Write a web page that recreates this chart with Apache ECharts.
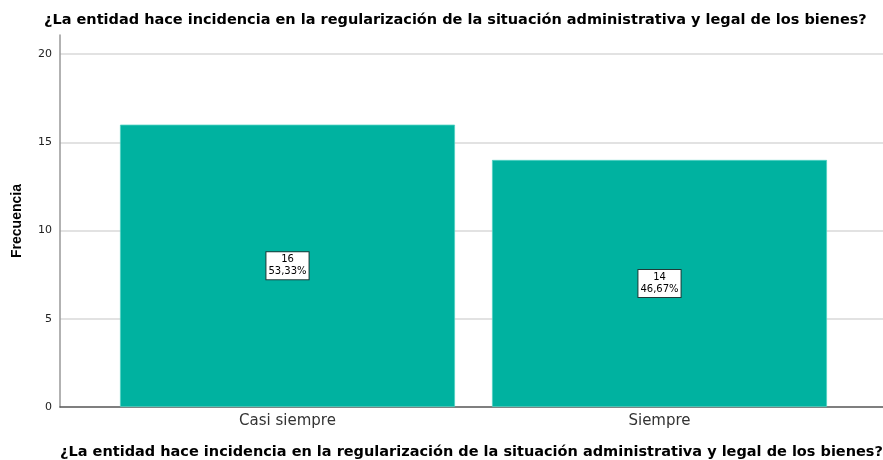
<!DOCTYPE html>
<html>
<head>
<meta charset="utf-8">
<script src="https://cdn.jsdelivr.net/npm/echarts@6/dist/echarts.min.js"></script>
<style>
  html, body { margin: 0; padding: 0; background: #fff; }
  #chart { width: 883px; height: 460px; }
</style>
</head>
<body>
<div id="chart"></div>
<script>
const titulo = "¿La entidad hace incidencia en la regularización de la situación administrativa y legal de los bienes?";
const categorias = ["Casi siempre", "Siempre"];
const frecuencias = [16, 14];
const porcentajes = ["53,33%", "46,67%"];
const yMax = 21.08; // the axis line goes a bit above 20

const chart = echarts.init(document.getElementById("chart"));
const ancha = "DejaVu Sans, sans-serif";

let option = {
  animation: false,
  title: {
    text: titulo,
    left: 39,
    top: 8,
    textStyle: { fontFamily: ancha, fontSize: 14.5, fontWeight: "bold", color: "#000" },
  },
  grid: [
    { left: 60, right: 0, top: 35, bottom: 53, outerBoundsMode: "none", containLabel: false },
    { left: 101.5, right: 37.5, top: 35, bottom: 53, outerBoundsMode: "none", containLabel: false },
  ],
  xAxis: [
    {
      gridIndex: 0,
      type: "value",
      min: 0,
      max: 1,
      name: titulo,
      nameLocation: "middle",
      nameGap: 38,
      nameTextStyle: { fontFamily: ancha, fontSize: 14.5, fontWeight: "bold", color: "#000" },
      axisLine: { show: true, onZero: false, lineStyle: { color: "#555", width: 1.5 } },
      axisTick: { show: false },
      axisLabel: { show: false },
      splitLine: { show: false },
    },
    {
      gridIndex: 1,
      type: "category",
      data: categorias,
      axisLine: { show: false },
      axisTick: { show: false },
      axisLabel: { fontFamily: ancha, fontSize: 15, color: "#333", margin: 7 },
    },
  ],
  yAxis: [
    {
      gridIndex: 0,
      type: "value",
      min: 0,
      max: yMax,
      interval: 5,
      name: "Frecuencia",
      nameLocation: "middle",
      nameGap: 36,
      nameTextStyle: { fontFamily: "Liberation Sans, Arial, sans-serif", fontSize: 14, fontWeight: "bold", color: "#000" },
      axisLine: { show: true, lineStyle: { color: "#999", width: 1.5 } },
      axisTick: { show: false },
      axisLabel: {
        fontFamily: ancha,
        fontSize: 11,
        color: "#222",
        margin: 8,
        showMaxLabel: false,
        formatter: (v) => (v % 5 === 0 ? String(v) : ""),
      },
      splitLine: { show: true, showMinLine: false, showMaxLine: false, lineStyle: { color: "#d9d9d9", width: 1.5 } },
    },
    {
      gridIndex: 1,
      type: "value",
      min: 0,
      max: yMax,
      show: false,
    },
  ],
  series: [
    {
      type: "bar",
      xAxisIndex: 1,
      yAxisIndex: 1,
      data: frecuencias,
      barWidth: 335,
      itemStyle: { color: "#00b2a0", borderColor: "#4fd0c2", borderWidth: 0.8 },
      label: {
        show: true,
        position: "inside",
        formatter: (p) => p.value + "\n" + porcentajes[p.dataIndex],
        fontFamily: ancha,
        fontSize: 10,
        lineHeight: 12,
        color: "#000",
        backgroundColor: "#fff",
        borderColor: "#1f3b38",
        borderWidth: 1,
        padding: [2, 2, 1, 2],
        align: "center",
      },
    },
  ],
};
chart.setOption(option);
</script>
</body>
</html>
